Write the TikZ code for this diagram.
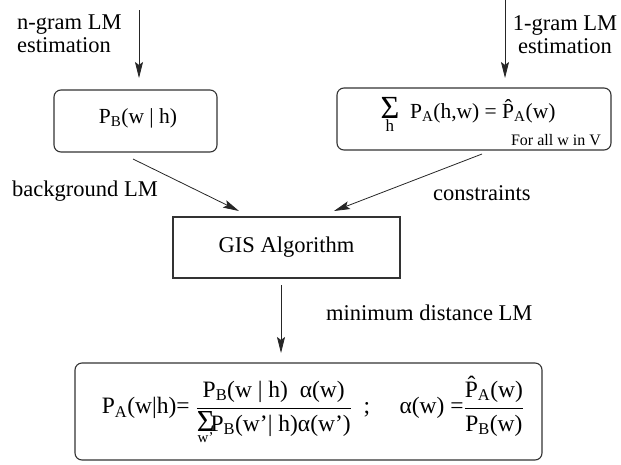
\documentclass[tikz,border=0pt]{standalone}
\usepackage{fontspec}
\setmainfont{Liberation Serif}
\usetikzlibrary{arrows.meta}
\newcommand\subx[1]{\textsubscript{#1}}
\newcommand\bigsig[2]{\(\mathop{\hbox{\scalebox{#1}{Σ}}}\limits_{\hbox{#2}}\)}
\begin{document}
\begin{tikzpicture}[x=1pt,y=-1pt,
  lbl/.style={font=\fontsize{22.5}{23}\selectfont, inner sep=0pt},
  rbox/.style={draw=black!80, line width=1.1pt, rounded corners=7pt, inner sep=0pt},
  sbox/.style={draw=black!80, line width=1.1pt, inner sep=0pt},
  arr/.style={draw=black!85, line width=0.8pt, -{Stealth[length=16pt,width=8pt,inset=3pt]}}]
\useasboundingbox (0,0) rectangle (621,464);

% boxes
\node[rbox, minimum width=163pt, minimum height=62pt] (pb) at (135.5,121) {};
\node[rbox, minimum width=274pt, minimum height=62pt] (sum) at (474,119) {};
\node[sbox, minimum width=227pt, minimum height=61pt] (gis) at (286.5,247.5)
  {\fontsize{22.5}{24}\selectfont GIS Algorithm};
\node[rbox, minimum width=467pt, minimum height=97pt] (res) at (308.5,411.5) {};

% box contents
\node[inner sep=0pt, font=\fontsize{21.5}{24}\selectfont] (pbt) at (138,118)
  {P\subx{B}(w | h)};
\node[inner sep=0pt, font=\fontsize{21.5}{24}\selectfont] (sumt) at (468,115)
  {\bigsig{1.5}{\fontsize{17}{17}\selectfont h}\ \ P\subx{A}(h,w) = \^{P}\subx{A}(w)};
\node[inner sep=0pt, anchor=east, font=\fontsize{16}{18}\selectfont] (forall) at (601,140)
  {For all w in V};
\node[inner sep=0pt, font=\fontsize{23.5}{26}\selectfont] (formula) at (313,410)
  {P\subx{A}(w|h)=\ \(\displaystyle\frac{\hbox{P\subx{B}(w | h)\ \ α(w)}}{\hbox{\bigsig{1.3}{\fontsize{15}{15}\selectfont w’}\!P\subx{B}(w’| h)α(w’)}}\)\ \ ;\ \ \ \ \ α(w) =\(\displaystyle\frac{\hbox{\^{P}\subx{A}(w)}}{\hbox{P\subx{B}(w)}}\)};

% labels
\node[lbl, anchor=west, align=left] (l1) at (17,34) {n-gram LM\\estimation};
\node[lbl, align=center] (l2) at (565,35) {1-gram LM\\estimation};
\node[lbl, anchor=west] (l3) at (12,191) {background LM};
\node[lbl, anchor=west] (l4) at (433,193) {constraints};
\node[lbl, anchor=west] (l5) at (326,313) {minimum distance LM};

% arrow end points
\coordinate (a1s) at (139,10);
\coordinate (a1e) at (139,78);
\coordinate (a2s) at (505,0);
\coordinate (a2e) at (505,78);
\coordinate (b1s) at (133,159);
\coordinate (b1e) at (239,211);
\coordinate (b2s) at (482,154);
\coordinate (b2e) at (334,211);
\coordinate (c1s) at (281,285);
\coordinate (c1e) at (281,353);

\draw[arr] (a1s) -- (a1e);
\draw[arr] (a2s) -- (a2e);
\draw[arr] (b1s) -- (b1e);
\draw[arr] (b2s) -- (b2e);
\draw[arr] (c1s) -- (c1e);
\end{tikzpicture}
\end{document}
